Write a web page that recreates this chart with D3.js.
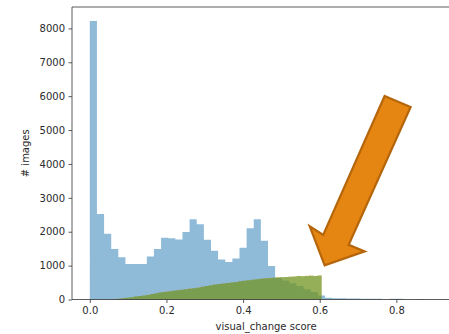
<!DOCTYPE html>
<html>
<head>
<meta charset="utf-8">
<script src="https://cdn.jsdelivr.net/npm/d3@7"></script>
<style>
  html, body { margin: 0; padding: 0; background: #fff; }
  svg { display: block; }
  text { font-family: "DejaVu Sans", sans-serif; fill: #2b2b2b; }
</style>
</head>
<body>
<svg id="chart" width="449" height="334"></svg>
<script>
// Histogram of visual_change scores: all images (blue) plus two subsets (orange, green)
const allStart = 0.0, allBinWidth = 0.0186;
const allCounts = [
  8220, 2520, 1940, 1490, 1250, 1050, 1050, 1050, 1270, 1490,
  1820, 1810, 1770, 1990, 2370, 2220, 1760, 1440, 1180, 1110,
  1210, 1530, 2100, 2370, 1730, 990, 640, 560, 480, 400,
  300, 220, 120, 50, 40, 35, 30, 30, 25, 25,
  20, 0, 20, 20, 0, 0, 15, 0, 0, 3
];

const subsetStart = 0.06, subsetBinWidth = 0.0109;
const subsetA = [ // orange
  8, 22, 35, 52, 65, 85, 102, 120, 138, 160,
  185, 205, 228, 240, 255, 272, 290, 305, 322, 335,
  352, 375, 402, 420, 445, 455, 472, 485, 505, 520,
  540, 550, 570, 580, 598, 610, 625, 632, 640, 655,
  660, 665, 675, 680, 695, 688, 700, 705, 692, 708
];
const subsetB = [ // green
  8, 20, 35, 50, 65, 85, 100, 120, 135, 160,
  185, 205, 225, 235, 255, 270, 285, 305, 320, 335,
  350, 375, 400, 420, 440, 455, 470, 485, 500, 520,
  535, 550, 565, 580, 595, 610, 620, 630, 640, 650,
  655, 665, 670, 680, 690, 685, 695, 700, 690, 705
];

const xTicks = [0.0, 0.2, 0.4, 0.6, 0.8];
const yTicks = [0, 1000, 2000, 3000, 4000, 5000, 6000, 7000, 8000];

// Callout arrow outline, in (score, count) units
const arrowPts = [
  [0.7694, 6006], [0.8372, 5680], [0.6755, 1612], [0.7173, 1420],
  [0.6129, 1006], [0.5738, 2160], [0.6090, 1908]
];

const svg = d3.select("#chart");
const plot = { left: 72, right: 464, top: 7, bottom: 299.5 };

const x = d3.scaleLinear().domain([-0.0465, 0.9765]).range([plot.left, plot.right]);
const y = d3.scaleLinear().domain([0, 8631]).range([plot.bottom, plot.top]);

// Each histogram is one filled step outline, so neighbouring bins don't leave seams
function drawHist(counts, start, width, color) {
  const pts = counts.map((c, i) => [start + i * width, c]);
  pts.push([start + counts.length * width, counts[counts.length - 1]]);
  const area = d3.area()
    .curve(d3.curveStepAfter)
    .x(d => x(d[0]))
    .y0(y(0))
    .y1(d => y(d[1]));
  svg.append("path")
    .datum(pts)
    .attr("d", area)
    .attr("fill", color)
    .attr("fill-opacity", 0.5);
}

drawHist(allCounts, allStart, allBinWidth, "#1f77b4");
drawHist(subsetA, subsetStart, subsetBinWidth, "#ff7f0e");
drawHist(subsetB, subsetStart, subsetBinWidth, "#2ca02c");

// spines
const spine = svg.append("g").attr("stroke", "#333").attr("stroke-width", 0.8).attr("fill", "none");
spine.append("line").attr("x1", plot.left).attr("x2", plot.left).attr("y1", plot.top).attr("y2", plot.bottom);
spine.append("line").attr("x1", plot.left).attr("x2", plot.right).attr("y1", plot.bottom).attr("y2", plot.bottom);
spine.append("line").attr("x1", plot.left).attr("x2", plot.right).attr("y1", plot.top).attr("y2", plot.top);
spine.append("line").attr("x1", plot.right).attr("x2", plot.right).attr("y1", plot.top).attr("y2", plot.bottom);

// axes
const xAxis = d3.axisBottom(x).tickValues(xTicks).tickFormat(d3.format(".1f")).tickSize(3.5).tickPadding(3.5);
const yAxis = d3.axisLeft(y).tickValues(yTicks).tickFormat(d3.format("d")).tickSize(3.5).tickPadding(3.5);

const gx = svg.append("g").attr("transform", `translate(0,${plot.bottom})`).call(xAxis);
const gy = svg.append("g").attr("transform", `translate(${plot.left},0)`).call(yAxis);
[gx, gy].forEach(g => {
  g.select(".domain").remove();
  g.selectAll(".tick line").attr("stroke", "#333").attr("stroke-width", 0.8);
  g.selectAll(".tick text").attr("font-size", 10).style("font-family", "DejaVu Sans, sans-serif").attr("fill", "#2b2b2b");
});

svg.append("text")
  .attr("x", (x(0) + x(0.92)) / 2)
  .attr("y", 330)
  .attr("text-anchor", "middle")
  .attr("font-size", 10)
  .text("visual_change score");

svg.append("text")
  .attr("transform", `translate(29,${(plot.top + plot.bottom) / 2}) rotate(-90)`)
  .attr("text-anchor", "middle")
  .attr("font-size", 10)
  .text("# images");

// callout arrow
svg.append("polygon")
  .attr("points", arrowPts.map(p => [x(p[0]), y(p[1])].join(",")).join(" "))
  .attr("fill", "#e58512")
  .attr("stroke", "#b5650a")
  .attr("stroke-width", 2.2)
  .attr("stroke-linejoin", "miter");
</script>
</body>
</html>
